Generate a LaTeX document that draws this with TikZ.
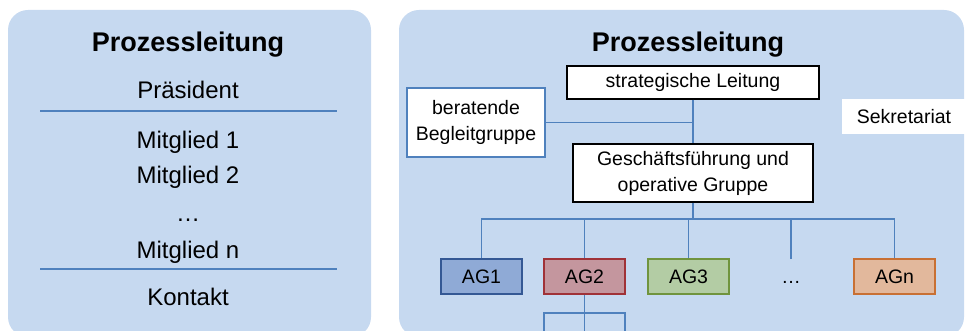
\documentclass[tikz,border=0pt]{standalone}
\usepackage{fontspec}
\setmainfont{Liberation Sans}
\usepackage{tikz}
\definecolor{panelblau}{RGB}{198,217,240}
\definecolor{linienblau}{RGB}{79,129,189}
\definecolor{agfill1}{RGB}{143,170,214}\definecolor{agrand1}{RGB}{52,88,148}
\definecolor{agfill2}{RGB}{196,150,158}\definecolor{agrand2}{RGB}{160,50,56}
\definecolor{agfill3}{RGB}{179,204,164}\definecolor{agrand3}{RGB}{112,148,62}
\definecolor{agfilln}{RGB}{226,184,156}\definecolor{agrandn}{RGB}{200,112,52}
\newcommand{\klein}{\fontsize{19.5}{26}\selectfont}
\newcommand{\gross}{\fontsize{24}{30}\selectfont}
\newcommand{\titel}{\fontsize{27}{32}\selectfont\bfseries}
\tikzset{
    panel/.style={fill=panelblau, rounded corners=20pt},
    leitung/.style={draw=linienblau, line width=1.5pt},
    kasten/.style={draw=black, fill=white, line width=1.5pt, inner sep=0pt, align=center, font=\klein},
    agbox/.style={line width=1.8pt, inner sep=0pt, minimum width=81pt, minimum height=35pt, font=\klein},
}

\begin{document}
\begin{tikzpicture}[x=1pt, y=-1pt]
    \useasboundingbox (0,0) rectangle (966,331);
    \clip (0,0) rectangle (966,331);
    \fill[panel] (8,10) rectangle (371,337);
    \fill[panel] (399,10) rectangle (964,337);
    % linke Seite
    \node[anchor=base, font=\titel] (titel1) at (188,52) {Prozessleitung};
    \node[anchor=base, font=\gross] (praes) at (188,99) {Präsident};
    \draw[leitung] (40,111) -- (337,111);
    \node[anchor=base, font=\gross] (mg1) at (188,149) {Mitglied 1};
    \node[anchor=base, font=\gross] (mg2) at (188,184) {Mitglied 2};
    \node[anchor=base, font=\gross] (mgdots) at (188,222) {…};
    \node[anchor=base, font=\gross] (mgn) at (188,258) {Mitglied n};
    \draw[leitung] (40,269) -- (337,269);
    \node[anchor=base, font=\gross] (kontakt) at (188,305) {Kontakt};
    % rechte Seite
    \node[anchor=base, font=\titel] (titel2) at (688,52) {Prozessleitung};
    \node[kasten, minimum width=252pt, minimum height=33pt] (strat) at (693,82.5) {strategische Leitung};
    \node[kasten, draw=linienblau, minimum width=138pt, minimum height=69pt] (berat) at (476,122.5) {beratende\\Begleitgruppe};
    \node[kasten, draw=none, minimum width=124pt, minimum height=35pt] (sekr) at (904,116.5) {Sekretariat};
    \node[kasten, minimum width=240pt, minimum height=58pt] (gf) at (693,173) {Geschäftsführung und\\operative Gruppe};
    \draw[leitung] (strat.south) -- (gf.north);
    \draw[leitung] (berat.east) -- (berat.east -| strat.south);
    % Arbeitsgruppen
    \node[agbox, draw=agrand1, fill=agfill1] (ag1) at (481.5,276.5) {AG1};
    \node[agbox, draw=agrand2, fill=agfill2] (ag2) at (584.5,276.5) {AG2};
    \node[agbox, draw=agrand3, fill=agfill3] (ag3) at (688.5,276.5) {AG3};
    \node[font=\klein] (agdots) at (791,282) {…};
    \node[agbox, draw=agrandn, fill=agfilln] (agn) at (894.5,276.5) {AGn};
    \coordinate (bus) at (693,219);
    \coordinate (dotsende) at (791,259);
    \draw[leitung] (gf.south) -- (bus);
    \draw[leitung] (ag1.north) |- (bus) -| (agn.north);
    \draw[leitung] (ag2.north) -- (ag2.north |- bus);
    \draw[leitung] (ag3.north) -- (ag3.north |- bus);
    \draw[leitung] (dotsende) -- (dotsende |- bus);
    % Untergruppen AG2
    \coordinate (subbus) at (584.5,313);
    \coordinate (sub1) at (544,335);
    \coordinate (sub2) at (625,335);
    \draw[leitung] (ag2.south) -- (ag2.south |- sub1);
    \draw[leitung] (sub1) |- (subbus) -| (sub2);
\end{tikzpicture}
\end{document}
